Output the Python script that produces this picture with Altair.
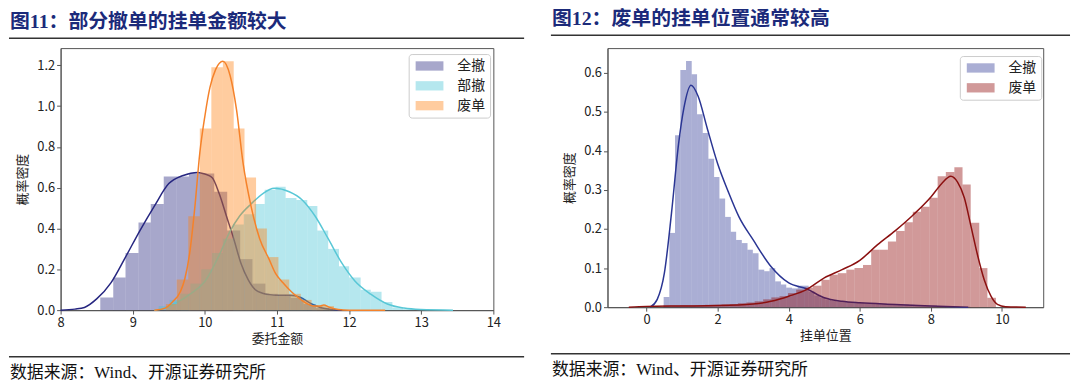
import altair as alt
import pandas as pd

TITLE_L = "图11：部分撤单的挂单金额较大"
TITLE_R = "图12：废单的挂单位置通常较高"
SOURCE = "数据来源：Wind、开源证券研究所"
XTITLE_L = "委托金额"
XTITLE_R = "挂单位置"
YTITLE = "概率密度"

SERIES_L = ["全撤", "部撤", "废单"]
BAR_COLORS_L = ["#22227c", "#46c2d4", "#ff7f0e"]
LINE_COLORS_L = ["#262680", "#58c7d6", "#f5822a"]
SERIES_R = ["全撤", "废单"]
BAR_COLORS_R = ["#2a3593", "#8b0000"]
LINE_COLORS_R = ["#2a3593", "#8b1010"]

# ---------- left panel: histograms (bin edges, densities) ----------
L_QC_EDGES = [8.55, 8.73, 8.90, 9.08, 9.25, 9.43, 9.61, 9.78, 9.96, 10.13, 10.31,
              10.49, 10.66, 10.84, 11.01, 11.19, 11.37, 11.54, 11.72]
L_QC_DENS = [0.062, 0.16, 0.28, 0.43, 0.52, 0.655, 0.655, 0.67, 0.67, 0.58, 0.39,
             0.25, 0.13, 0.08, 0.075, 0.06, 0.03, 0.01]
L_BC_EDGES = [9.36, 9.51, 9.66, 9.80, 9.95, 10.10, 10.25, 10.39, 10.54, 10.69, 10.83,
              10.98, 11.12, 11.27, 11.42, 11.56, 11.71, 11.86, 12.00, 12.16, 12.30,
              12.45, 12.60, 12.75, 12.90]
L_BC_DENS = [0.02, 0.05, 0.08, 0.13, 0.2, 0.28, 0.35, 0.42, 0.47, 0.52, 0.59, 0.605,
             0.55, 0.54, 0.51, 0.39, 0.30, 0.215, 0.16, 0.10, 0.09, 0.04, 0.013, 0.005]
L_FD_EDGES = [9.46, 9.61, 9.77, 9.93, 10.09, 10.25, 10.40, 10.55, 10.71, 10.86, 11.02,
              11.17, 11.33, 11.48, 11.64, 11.79]
L_FD_DENS = [0.03, 0.15, 0.46, 0.89, 1.19, 1.22, 0.89, 0.65, 0.40, 0.26, 0.15, 0.08,
             0.05, 0.02, 0.02]

# ---------- left panel: KDE curves ----------
L_QC_KX = [8.0, 8.2, 8.33, 8.5, 8.7, 8.9, 9.1, 9.3, 9.5, 9.7, 9.9, 10.0, 10.1, 10.2,
           10.3, 10.4, 10.5, 10.6, 10.7, 10.8, 10.9, 11.0, 11.17, 11.33, 11.46, 11.6,
           11.76, 11.9]
L_QC_KY = [0.0, 0.005, 0.013, 0.055, 0.135, 0.26, 0.39, 0.51, 0.62, 0.66, 0.675, 0.667,
           0.65, 0.57, 0.46, 0.35, 0.23, 0.15, 0.10, 0.083, 0.076, 0.073, 0.073, 0.062,
           0.034, 0.013, 0.003, 0.0]
L_BC_KX = [9.3, 9.45, 9.6, 9.8, 10.0, 10.2, 10.34, 10.48, 10.64, 10.8, 10.96, 11.17,
           11.35, 11.53, 11.71, 11.9, 12.08, 12.3, 12.53, 12.76, 12.99, 13.44]
L_BC_KY = [0.0, 0.01, 0.035, 0.08, 0.14, 0.27, 0.38, 0.46, 0.52, 0.57, 0.597, 0.58,
           0.54, 0.46, 0.35, 0.23, 0.143, 0.078, 0.03, 0.01, 0.003, 0.0]
L_FD_KX = [9.3, 9.45, 9.55, 9.66, 9.72, 9.79, 9.86, 9.93, 10.0, 10.07, 10.15, 10.25,
           10.35, 10.44, 10.53, 10.64, 10.76, 10.89, 10.98, 11.08, 11.2, 11.3, 11.4,
           11.5, 11.6, 11.65, 11.72, 11.85, 12.0, 12.5]
L_FD_KY = [0.0, 0.01, 0.04, 0.09, 0.15, 0.28, 0.5, 0.77, 0.95, 1.09, 1.18, 1.22, 1.15,
           0.98, 0.72, 0.51, 0.35, 0.25, 0.18, 0.135, 0.09, 0.06, 0.035, 0.02, 0.02,
           0.025, 0.015, 0.003, 0.0, 0.0]

# ---------- right panel: histograms ----------
R_QC_EDGES = [0.48, 0.64, 0.80, 0.95, 1.11, 1.27, 1.42, 1.58, 1.74, 1.90, 2.05, 2.21,
              2.37, 2.52, 2.68, 2.84, 2.99, 3.15, 3.31, 3.46, 3.62, 3.78, 3.93, 4.09,
              4.25, 4.40, 4.56, 4.72, 4.87, 5.03, 5.19, 5.34, 5.50, 5.66, 5.82, 5.97,
              6.13, 6.29, 6.44, 6.60, 6.76, 6.91, 7.07, 7.23, 7.38, 7.54, 7.70, 7.85,
              8.01, 8.17, 8.33, 8.48, 8.64, 8.80, 8.95, 9.11]
R_QC_DENS = [0.026, 0.19, 0.44, 0.607, 0.63, 0.596, 0.494, 0.446, 0.38, 0.333, 0.278,
             0.231, 0.193, 0.172, 0.164, 0.147, 0.138, 0.096, 0.092, 0.1, 0.066, 0.058,
             0.05, 0.048, 0.055, 0.055, 0.04, 0.03, 0.025, 0.02, 0.017, 0.015, 0.014,
             0.013, 0.012, 0.011, 0.01, 0.01, 0.009, 0.009, 0.008, 0.008, 0.007, 0.007,
             0.006, 0.005, 0.005, 0.004, 0.004, 0.003, 0.003, 0.002, 0.002, 0.001, 0.001]
R_FD_EDGES = [0.47, 0.70, 0.94, 1.17, 1.40, 1.64, 1.87, 2.11, 2.34, 2.57, 2.81, 3.04,
              3.28, 3.51, 3.74, 3.98, 4.21, 4.45, 4.68, 4.92, 5.15, 5.38, 5.62, 5.85,
              6.09, 6.32, 6.55, 6.79, 7.02, 7.26, 7.49, 7.72, 7.96, 8.19, 8.42, 8.66,
              8.89, 9.12, 9.36, 9.59, 9.83]
R_FD_DENS = [0.004, 0.004, 0.005, 0.005, 0.005, 0.006, 0.006, 0.007, 0.008, 0.01, 0.012,
             0.015, 0.02, 0.025, 0.028, 0.036, 0.045, 0.05, 0.055, 0.07, 0.083, 0.087,
             0.096, 0.1, 0.108, 0.147, 0.147, 0.168, 0.195, 0.217, 0.244, 0.257, 0.28,
             0.335, 0.346, 0.358, 0.314, 0.216, 0.1, 0.024]

# ---------- right panel: KDE curves ----------
R_QC_KX = [0.1, 0.3, 0.5, 0.7, 0.9, 1.05, 1.25, 1.45, 1.7, 2.0, 2.3, 2.6, 3.0, 3.5,
           4.0, 4.5, 5.0, 5.5, 6.0, 7.0, 8.0, 9.05]
R_QC_KY = [0.0, 0.02, 0.087, 0.24, 0.418, 0.51, 0.568, 0.54, 0.46, 0.367, 0.295, 0.231,
           0.172, 0.104, 0.062, 0.047, 0.024, 0.015, 0.011, 0.007, 0.003, 0.0]
R_FD_KX = [-0.5, 0.0, 1.0, 2.0, 3.0, 3.5, 4.0, 4.5, 5.0, 5.5, 6.0, 6.5, 7.0, 7.5, 8.0,
           8.3, 8.56, 8.75, 8.94, 9.12, 9.31, 9.5, 9.69, 9.87, 10.1, 10.67]
R_FD_KY = [0.0, 0.002, 0.003, 0.004, 0.008, 0.015, 0.028, 0.045, 0.075, 0.096, 0.12,
           0.16, 0.196, 0.236, 0.282, 0.316, 0.335, 0.32, 0.28, 0.21, 0.134, 0.07,
           0.028, 0.007, 0.001, 0.0]

FONT = "Noto Sans CJK SC"
TITLE_FONT = "Liberation Serif, Noto Sans CJK SC"
# custom path in unit box (Vega scales it by sqrt(size)/2)
LEGEND_PATH = "M-1,-0.94H4.6V0.94H-1Z"


def bar_df(name, edges, dens):
    return pd.DataFrame({"series": name, "x0": edges[:-1], "x1": edges[1:], "d": dens})


def kde_df(name, xs, ys):
    return pd.DataFrame({"series": name, "x": xs, "d": ys})


def panel(series, bar_colors, line_colors, bars, kdes, xdom, ydom, xvals, yvals,
          w, h, xtitle, legend_xy, title, title_x, title_y, rule_x2, pad_x2):
    xscale = alt.Scale(domain=xdom, nice=False, zero=False)
    yscale = alt.Scale(domain=ydom, nice=False)
    xaxis = alt.Axis(values=xvals, format="d", title=xtitle, grid=False, tickSize=4,
                     labelPadding=2, titlePadding=4, labelFontSize=13, titleFontSize=13,
                     titleFontWeight="normal", labelFlush=False)
    yaxis = alt.Axis(values=yvals, format=".1f", title=YTITLE, grid=False, tickSize=4,
                     labelPadding=2, titlePadding=7, labelFontSize=13, titleFontSize=13,
                     titleFontWeight="normal")
    legend = alt.Legend(title=None, orient="none", legendX=legend_xy[0],
                        legendY=legend_xy[1], symbolType=LEGEND_PATH, symbolSize=100,
                        symbolOpacity=0.4, symbolStrokeWidth=0, labelFont=FONT,
                        labelFontSize=14, labelColor="#222222", labelOffset=30,
                        padding=5, rowPadding=6, fillColor="white",
                        strokeColor="#cccccc", cornerRadius=3)
    color = alt.Color("series:N", scale=alt.Scale(domain=series, range=bar_colors),
                      legend=legend)
    layers = []
    for i, name in enumerate(series):
        layers.append(
            alt.Chart(bars[i]).mark_rect(opacity=0.4).encode(
                x=alt.X("x0:Q", scale=xscale, axis=xaxis),
                x2="x1:Q",
                y=alt.Y("d:Q", scale=yscale, axis=yaxis),
                y2=alt.datum(0),
                color=color,
            )
        )
        layers.append(
            alt.Chart(kdes[i]).mark_line(color=line_colors[i], strokeWidth=1.5,
                                         interpolate="monotone").encode(
                x=alt.X("x:Q", scale=xscale, axis=xaxis),
                y=alt.Y("d:Q", scale=yscale, axis=yaxis),
            )
        )
    one = pd.DataFrame({"t": [title]})
    src = pd.DataFrame({"t": [SOURCE]})
    layers.append(
        alt.Chart(one).mark_text(align="left", baseline="middle", font=TITLE_FONT,
                                 fontSize=20, fontWeight="bold", color="#1b2a7a").encode(
            x=alt.value(title_x), y=alt.value(title_y), text="t:N")
    )
    layers.append(
        alt.Chart(one).mark_rule(color="#333333", strokeWidth=1.5).encode(
            x=alt.value(title_x - 1), x2=alt.value(rule_x2), y=alt.value(title_y + 16))
    )
    layers.append(
        alt.Chart(one).mark_rule(strokeOpacity=0, strokeWidth=1).encode(
            x=alt.value(title_x - 1), x2=alt.value(pad_x2), y=alt.value(title_y + 16))
    )
    layers.append(
        alt.Chart(src).mark_rule(color="#333333", strokeWidth=1.5).encode(
            x=alt.value(title_x - 1), x2=alt.value(rule_x2), y=alt.value(h + 47))
    )
    layers.append(
        alt.Chart(src).mark_text(align="left", baseline="middle", font=TITLE_FONT,
                                 fontSize=17, color="#111111").encode(
            x=alt.value(title_x), y=alt.value(h + 63), text="t:N")
    )
    return alt.layer(*layers).properties(width=w, height=h)


left = panel(
    SERIES_L, BAR_COLORS_L, LINE_COLORS_L,
    [bar_df(SERIES_L[0], L_QC_EDGES, L_QC_DENS),
     bar_df(SERIES_L[1], L_BC_EDGES, L_BC_DENS),
     bar_df(SERIES_L[2], L_FD_EDGES, L_FD_DENS)],
    [kde_df(SERIES_L[0], L_QC_KX, L_QC_KY),
     kde_df(SERIES_L[1], L_BC_KX, L_BC_KY),
     kde_df(SERIES_L[2], L_FD_KX, L_FD_KY)],
    [8, 14], [0, 1.284], [8, 9, 10, 11, 12, 13, 14],
    [0.0, 0.2, 0.4, 0.6, 0.8, 1.0, 1.2],
    436, 264, XTITLE_L, (350.7, 6), TITLE_L, -51, -26, 467, 472,
)

right = panel(
    SERIES_R, BAR_COLORS_R, LINE_COLORS_R,
    [bar_df(SERIES_R[0], R_QC_EDGES, R_QC_DENS),
     bar_df(SERIES_R[1], R_FD_EDGES, R_FD_DENS)],
    [kde_df(SERIES_R[0], R_QC_KX, R_QC_KY),
     kde_df(SERIES_R[1], R_FD_KX, R_FD_KY)],
    [-1.1, 11.16], [0, 0.663], [0, 2, 4, 6, 8, 10],
    [0.0, 0.1, 0.2, 0.3, 0.4, 0.5, 0.6],
    439, 261, XTITLE_R, (355, 8), TITLE_R, -56, -29, 466, 466,
)

chart = (
    alt.hconcat(left, right, spacing=19)
    .resolve_scale(color="independent", x="independent", y="independent")
    .resolve_legend(color="independent")
    .properties(padding={"left": -1, "top": -1, "right": 0, "bottom": 0})
    .configure_view(stroke="#555555", strokeWidth=1)
    .configure_axis(labelFont=FONT, titleFont=FONT, labelColor="#222222",
                    titleColor="#222222", domainColor="#555555", tickColor="#555555")
)

chart.save("out.html", embed_options={"renderer": "svg", "actions": False})
